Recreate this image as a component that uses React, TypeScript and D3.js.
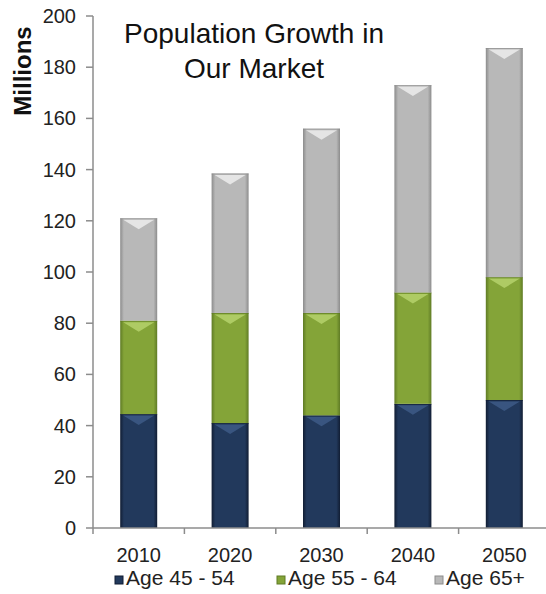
import React from "react";
import * as d3 from "d3";

const years = ["2010", "2020", "2030", "2040", "2050"];
const age4554 = [44.5, 41, 44, 48.5, 50];
const age5564 = [36.5, 43, 40, 43.5, 48];
const age65 = [40, 54.5, 72, 81, 89.5];
const seriesNames = ["Age 45 - 54", "Age 55 - 64", "Age 65+"];
const yTicks = [0, 20, 40, 60, 80, 100, 120, 140, 160, 180, 200];
const titleLines = ["Population Growth in", "Our Market"];

const palette = [
  { edge: "#111d33", mid: "#22395c", top: "#3d5a86", id: "g0" },
  { edge: "#5f7b25", mid: "#84a438", top: "#b5d26c", id: "g1" },
  { edge: "#8c8c8c", mid: "#b8b8b8", top: "#ececec", id: "g2" },
];

export default function App() {
  const W = 546, H = 594;
  const x0 = 93, x1 = 550, yTop = 16, yBot = 528;
  const x = d3.scaleBand<string>().domain(years).range([x0, x1]).paddingInner(0).paddingOuter(0);
  const y = d3.scaleLinear().domain([0, 200]).range([yBot, yTop]);
  const data = years.map((yr, i) => ({ year: yr, a: age4554[i], b: age5564[i], c: age65[i] }));
  const stack = d3.stack<any>().keys(["a", "b", "c"])(data);
  const bw = 37;
  const font = "'Liberation Sans', Arial, sans-serif";

  return (
    <svg width={W} height={H} style={{ position: "absolute", left: 0, top: 0, background: "#fff" }}>
      <defs>
        {palette.map((p) => (
          <linearGradient key={p.id} id={p.id} x1="0" x2="1" y1="0" y2="0">
            <stop offset="0" stopColor={p.edge} />
            <stop offset="0.1" stopColor={p.mid} />
            <stop offset="0.5" stopColor={p.mid} />
            <stop offset="0.9" stopColor={p.mid} />
            <stop offset="1" stopColor={p.edge} />
          </linearGradient>
        ))}
      </defs>
      {stack.map((s, si) => (
        <g key={si}>
          {s.map((d, i) => {
            const cx = (x(years[i]) as number) + x.bandwidth() / 2;
            const left = cx - bw / 2;
            const top = y(d[1]);
            const h = y(d[0]) - y(d[1]);
            const p = palette[si];
            const tri = Math.min(11, h / 2);
            return (
              <g key={i}>
                <rect x={left} y={top} width={bw} height={h} fill={`url(#${p.id})`} />
                <polygon
                  points={`${left + 3},${top + 1.5} ${left + bw - 3},${top + 1.5} ${cx},${top + tri}`}
                  fill={p.top}
                  opacity={0.85}
                />
                <line x1={left} x2={left + bw} y1={top + 0.5} y2={top + 0.5} stroke={p.edge} strokeWidth={1} opacity={0.6} />
              </g>
            );
          })}
        </g>
      ))}
      {/* y axis */}
      <line x1={x0} x2={x0} y1={yTop} y2={yBot} stroke="#8c8c8c" strokeWidth={1.5} />
      {yTicks.map((t) => (
        <g key={t}>
          <line x1={x0 - 7} x2={x0} y1={y(t)} y2={y(t)} stroke="#8c8c8c" strokeWidth={1.5} />
          <text x={76} y={y(t)} dy="0.35em" textAnchor="end" fontFamily={font} fontSize={20} fill="#222">
            {t}
          </text>
        </g>
      ))}
      {/* x axis */}
      <line x1={x0} x2={x1} y1={yBot} y2={yBot} stroke="#8c8c8c" strokeWidth={1.5} />
      {years.map((yr) => (
        <g key={yr}>
          <line x1={x(yr) as number} x2={x(yr) as number} y1={yBot} y2={yBot + 6} stroke="#8c8c8c" strokeWidth={1.5} />
          <text
            x={(x(yr) as number) + x.bandwidth() / 2}
            y={562}
            textAnchor="middle"
            fontFamily={font}
            fontSize={20}
            fill="#222"
          >
            {yr}
          </text>
        </g>
      ))}
      {/* y label */}
      <text
        transform={`translate(31,71) rotate(-90)`}
        textAnchor="middle"
        fontFamily={font}
        fontSize={24}
        fontWeight="bold"
        fill="#111"
      >
        Millions
      </text>
      {/* title */}
      {titleLines.map((l, i) => (
        <text key={i} x={254} y={43 + i * 35} textAnchor="middle" fontFamily={font} fontSize={28} fill="#111">
          {l}
        </text>
      ))}
      {/* legend */}
      {seriesNames.map((n, i) => {
        const lx = [115, 277, 435][i];
        const p = palette[i];
        return (
          <g key={n}>
            <rect x={lx} y={576} width={8} height={8} fill={p.mid} stroke={p.edge} strokeWidth={1} />
            <text x={lx + 11} y={585} fontFamily={font} fontSize={21} fill="#222">
              {n}
            </text>
          </g>
        );
      })}
    </svg>
  );
}
